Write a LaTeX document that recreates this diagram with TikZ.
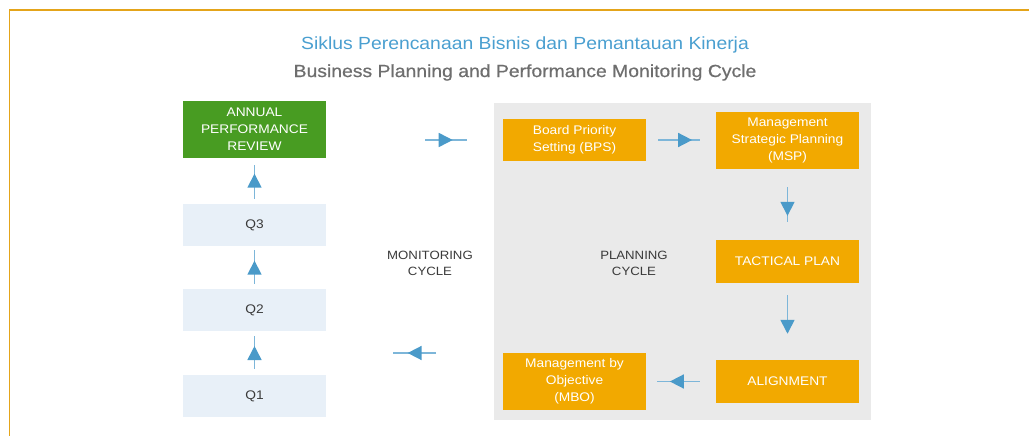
\documentclass[tikz,border=0pt]{standalone}
\usepackage{fontspec}
\setmainfont{Liberation Sans}[FakeStretch=1.1]
\newfontfamily\medfont{Liberation Sans}[FakeStretch=1.1, FakeBold=0.6]
\usetikzlibrary{arrows.meta,decorations.markings}
\definecolor{frameor}{HTML}{E4A41A}
\definecolor{boxor}{HTML}{F2A900}
\definecolor{boxgr}{HTML}{489C22}
\definecolor{boxq}{HTML}{E8F0F8}
\definecolor{panelg}{HTML}{EAEAEA}
\definecolor{titleb}{HTML}{4A9FD0}
\definecolor{titleg}{HTML}{6E6E6E}
\definecolor{linec}{HTML}{7DB6D9}
\definecolor{arrowc}{HTML}{4A9AC9}
\definecolor{labelc}{HTML}{3A3A3A}
\tikzset{
  box/.style={rectangle, inner sep=0pt, align=center, text=white,
    minimum width=143, font=\fontsize{12.5}{17}\selectfont},
  orbox/.style={box, fill=boxor},
  qbox/.style={box, fill=boxq, text=labelc, minimum height=42},
  cyclelabel/.style={align=center, text=labelc, font=\fontsize{12}{16}\selectfont},
  flow/.style={draw=linec, line width=1.6, postaction={decorate},
    decoration={markings, mark=at position 0.66 with
      {\arrow{Triangle[length=14,width=14,color=arrowc]}}}}
}
\begin{document}
\begin{tikzpicture}[x=1pt,y=-1pt]
\useasboundingbox (0,0) rectangle (1029,436);
% frame
\draw[frameor, line width=1.5] (9.5,436) -- (9.5,10) -- (1029,10);
% titles
\node[text=titleb, font=\fontsize{17.6}{20}\selectfont] (t1) at (525,44.5) {Siklus Perencanaan Bisnis dan Pemantauan Kinerja};
\node[text=titleg, font=\medfont\fontsize{17.6}{20}\selectfont] (t2) at (525,72.5) {Business Planning and Performance Monitoring Cycle};
% planning panel
\fill[panelg] (494,103) rectangle (871,420);
% monitoring column
\node[box, fill=boxgr, minimum height=57] (apr) at (254.5,129.5) {ANNUAL\\PERFORMANCE\\REVIEW};
\node[qbox] (q3) at (254.5,225) {Q3};
\node[qbox] (q2) at (254.5,310) {Q2};
\node[qbox] (q1) at (254.5,396) {Q1};
% planning boxes
\node[orbox, minimum height=42] (bps) at (574.5,140) {Board Priority\\Setting (BPS)};
\node[orbox, minimum height=57] (msp) at (787.5,140.5) {Management\\Strategic Planning\\(MSP)};
\node[orbox, minimum height=43] (tac) at (787.5,261.5) {TACTICAL PLAN};
\node[orbox, minimum height=43] (ali) at (787.5,381.5) {ALIGNMENT};
\node[orbox, minimum height=57] (mbo) at (574.5,381.5) {Management by\\Objective\\(MBO)};
% labels
\node[cyclelabel] (mon) at (430,263.5) {MONITORING\\CYCLE};
\node[cyclelabel] (pla) at (634,263.5) {PLANNING\\CYCLE};
% free arrow ends
\coordinate (ta) at (425,140);
\coordinate (tb) at (467,140);
\coordinate (ba) at (436,353);
\coordinate (bb) at (393,353);
% connectors
\draw[flow, shorten <=6, shorten >=5] (q1) -- (q2);
\draw[flow, shorten <=5, shorten >=4] (q2) -- (q3);
\draw[flow, shorten <=5, shorten >=7] (q3) -- (apr);
\draw[flow] (ta) -- (tb);
\draw[flow, shorten <=12, shorten >=16] (bps) -- (bps -| msp.west);
\draw[flow, shorten <=18, shorten >=18] (msp) -- (tac);
\draw[flow, shorten <=12, shorten >=28] (tac) -- (ali);
\draw[flow, shorten <=16, shorten >=11] (ali) -- (mbo);
\draw[flow] (ba) -- (bb);
\end{tikzpicture}
\end{document}
